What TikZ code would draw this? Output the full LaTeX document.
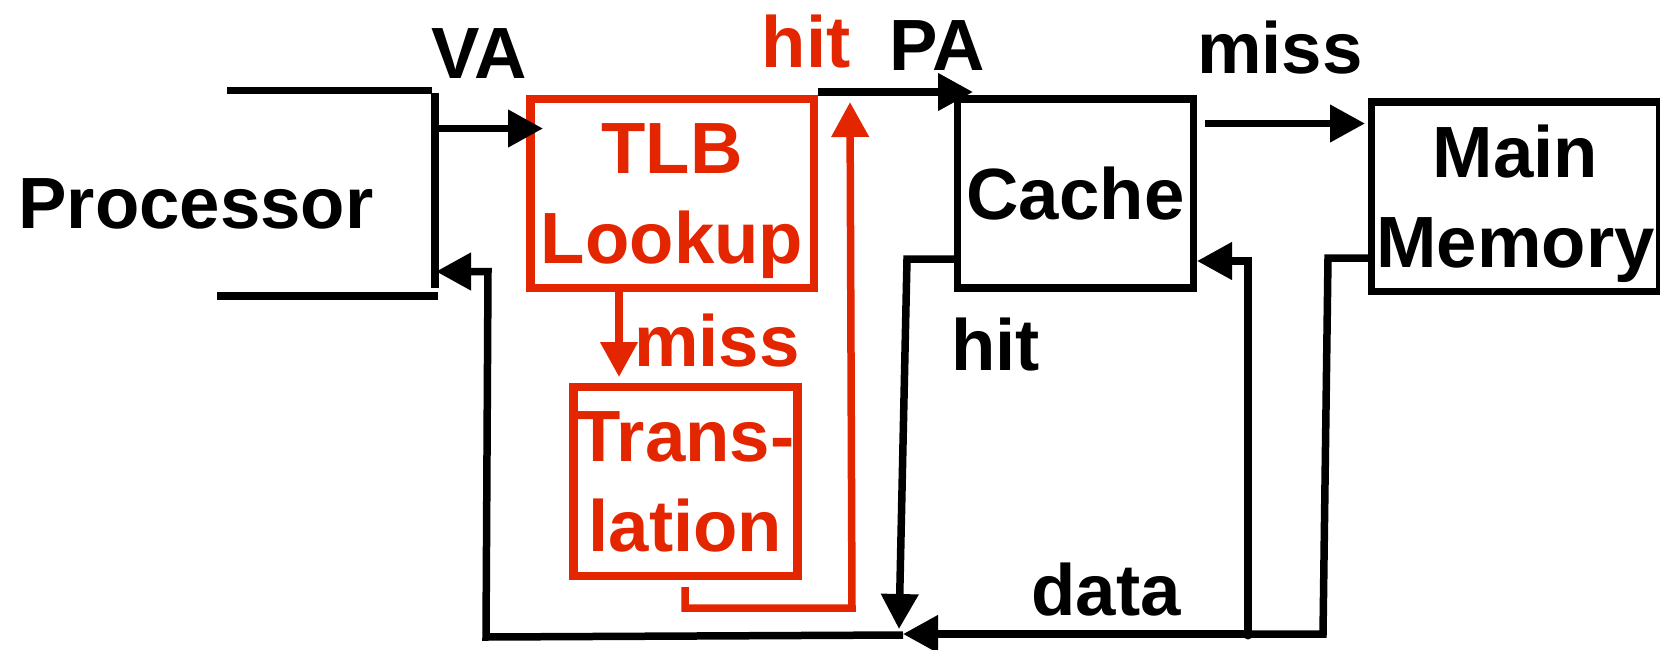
\documentclass[tikz,border=0pt]{standalone}
\usepackage{fontspec}
\setmainfont{Liberation Sans}
\usetikzlibrary{arrows.meta}
\definecolor{tlbred}{RGB}{228,38,0}
\tikzset{
  lbl/.style={font=\fontsize{36.3pt}{45pt}\selectfont\bfseries, inner sep=0pt, anchor=base},
  blk/.style={draw=black, line width=3.75pt, inner sep=0pt, align=center, text depth=0pt,
              font=\fontsize{36.3pt}{45pt}\selectfont\bfseries},
  redbox/.style={blk, draw=tlbred, text=tlbred, line width=4.25pt},
  wire/.style={line width=3.75pt, draw=black},
  redwire/.style={line width=3.75pt, draw=tlbred},
  arr/.style={-{Triangle[length=17.5pt,width=18pt]}},
}
\begin{document}
\begin{tikzpicture}[x=0.5pt,y=-0.5pt]
\useasboundingbox (0,0) rectangle (1660,649);
% boxes
\node[lbl, anchor=center] (proc) at (196,204) {Processor};
\node[redbox, minimum width=141.75pt, minimum height=94.5pt] (tlb) at (672,193.5) {TLB\\Lookup};
\node[redbox, minimum width=112pt, minimum height=94.5pt] (trans) at (685.5,481.5) {Trans-\\lation};
\node[blk, minimum width=118pt, minimum height=94.5pt] (cache) at (1075.5,193.5) {Cache};
\node[blk, minimum width=144pt, minimum height=94.75pt] (mem) at (1515.5,196.5) {Main\\Memory};
% processor outline
\draw[wire] (227,90.5) -- (432,90.5);
\draw[wire] (217,296) -- (438,296);
\draw[wire] (435,93) -- (435,288);
\coordinate (pin) at (435,128.5);
\coordinate (pout) at (436,271.5);
% labels
\node[lbl] (va) at (479,78) {VA};
\node[lbl, text=tlbred] (hitr) at (806,67) {hit};
\node[lbl] (pa) at (937,70) {PA};
\node[lbl] (missb) at (1280,73) {miss};
\node[lbl, text=tlbred] (missr) at (717,366) {miss};
\node[lbl] (hitb) at (995.5,370) {hit};
\node[lbl] (data) at (1106,615) {data};
% junctions
\coordinate (j) at (901,635);
\coordinate (dot) at (1248,634);
% connectors
\draw[wire, arr] (pin) -- (543,128.5);
\draw[wire, arr] (tlb.north east |- 0,92) -- (973,92);
\draw[wire, arr] (1205,123.5) -- (1365,123.5);
\draw[redwire, arr] (619,288) -- (619,377);
\draw[redwire, arr] (685,587) -- (685,608) -- (852,608) -- (850,102);
\draw[wire, arr] (cache.west |- 0,259) -- (907,259) -- (899,629);
\draw[wire] (mem.west |- 0,258) -- (1328,258) -- (1323,634) -- (dot);
\draw[wire, arr] (dot) -- (903,634);
\draw[wire, arr] (dot) -- (1248,261) -- (1197,261);
\fill (dot) circle (5.5);
\draw[wire, arr] (903,635) -- (486,637) -- (488,271.5) -- (pout);
\end{tikzpicture}
\end{document}
